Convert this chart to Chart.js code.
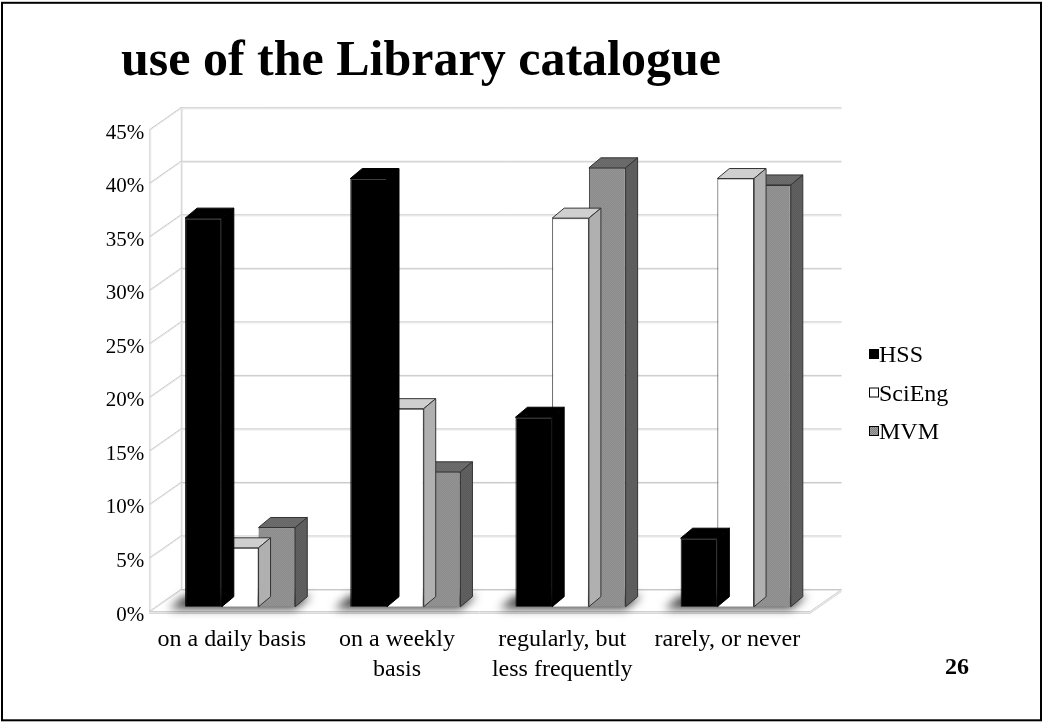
<!DOCTYPE html>
<html><head><meta charset="utf-8">
<script src="https://cdn.jsdelivr.net/npm/chart.js@4.4.1/dist/chart.umd.min.js"></script>
<style>html,body{margin:0;padding:0;background:#fff}#wrap{width:1042px;height:722px;position:relative}</style>
</head><body><div id="wrap"><canvas id="c"></canvas></div>
<script>
const titleText = 'use of the Library catalogue';
const categories = ['on a daily basis', ['on a weekly', 'basis'], ['regularly, but', 'less frequently'], 'rarely, or never'];
const seriesNames = ['HSS', 'SciEng', 'MVM'];
const hss = [36.3, 40.0, 17.7, 6.4];
const sciEng = [5.5, 18.5, 36.3, 40.0];
const mvm = [7.4, 12.6, 41.0, 39.4];
const yTickValues = [0, 5, 10, 15, 20, 25, 30, 35, 40, 45];
const pageNumber = '26';

const FONT = "'Liberation Serif', 'Times New Roman', serif";
const WALL = {dx: 31.5, dy: -22};
const BAR_SHIFT = {dx: 8.3, dy: -4.3};
const BAR_DEPTH = {dx: 12, dy: -10};

function dither(a, b) {
  const cv = document.createElement('canvas');
  cv.width = cv.height = 2;
  const g = cv.getContext('2d');
  g.fillStyle = a; g.fillRect(0, 0, 2, 2);
  g.fillStyle = b; g.fillRect(0, 0, 1, 1); g.fillRect(1, 1, 1, 1);
  return g.createPattern(cv, 'repeat');
}
const faces = [
  {front: '#000000', top: '#000000', side: '#000000', border: '#000000'},
  {front: '#ffffff', top: '#cfcfcf', side: '#b0b0b0', border: '#333333'},
  {front: dither('#7e7e7e', '#a2a2a2'), top: dither('#5a5a5a', '#7a7a7a'), side: dither('#505050', '#6c6c6c'), border: '#333333'}
];

const threeD = {
  id: 'threeD',
  beforeDraw(chart) {
    const ctx = chart.ctx;
    ctx.save(); ctx.fillStyle = '#fff'; ctx.fillRect(0, 0, chart.width, chart.height); ctx.restore();
  },
  beforeDatasetsDraw(chart) {
    const ctx = chart.ctx, ys = chart.scales.y, a = chart.chartArea;
    const L = a.left, R = a.right;
    ctx.save();
    ctx.lineCap = 'butt';
    const line = (pts, col, off) => {
      ctx.strokeStyle = col; ctx.lineWidth = 1;
      ctx.beginPath();
      pts.forEach((p, i) => i ? ctx.lineTo(p[0], p[1] + off) : ctx.moveTo(p[0], p[1] + off));
      ctx.stroke();
    };
    const yTop = ys.getPixelForValue(ys.max), y0 = ys.getPixelForValue(0);
    [[ [L, yTop], [L, y0] ], [ [L + WALL.dx, yTop + WALL.dy], [L + WALL.dx, y0 + WALL.dy] ]].forEach(p => {
      ctx.strokeStyle = '#cdcdcd'; ctx.lineWidth = 1;
      ctx.beginPath(); ctx.moveTo(p[0][0] + 0.5, p[0][1]); ctx.lineTo(p[1][0] + 0.5, p[1][1]); ctx.stroke();
      ctx.strokeStyle = '#e8e8e8';
      ctx.beginPath(); ctx.moveTo(p[0][0] + 1.5, p[0][1]); ctx.lineTo(p[1][0] + 1.5, p[1][1]); ctx.stroke();
    });
    ys.ticks.forEach(t => {
      const y = ys.getPixelForValue(t.value);
      const pts = [[L, y], [L + WALL.dx, y + WALL.dy], [R + WALL.dx, y + WALL.dy]];
      line(pts, '#c8c8c8', 0.5);
      line(pts, '#e6e6e6', 1.5);
    });
    const fl = [[L, y0], [R, y0], [R + WALL.dx, y0 + WALL.dy]];
    line(fl, '#cfcfcf', 0.5);
    line(fl, '#e6e6e6', 1.5);
    line([[L, y0 + 2], [R, y0 + 2], [R + WALL.dx, y0 + 2 + WALL.dy]], '#d8d8d8', 0.5);
    ctx.translate(BAR_SHIFT.dx, BAR_SHIFT.dy);
    const m0 = chart.getDatasetMeta(0), m2 = chart.getDatasetMeta(chart.data.datasets.length - 1);
    ctx.save();
    ctx.filter = 'blur(5px)';
    ctx.fillStyle = 'rgba(0,0,0,0.75)';
    m0.data.forEach((el, i) => {
      const left = el.x - el.width / 2, r = m2.data[i].x + m2.data[i].width / 2, base = el.base;
      ctx.beginPath();
      ctx.moveTo(left - 16, base + 2);
      ctx.lineTo(r, base + 2);
      ctx.lineTo(r + BAR_DEPTH.dx + 4, base - 11);
      ctx.lineTo(left, base - 11);
      ctx.closePath(); ctx.fill();
    });
    ctx.restore();
  },
  afterDatasetDraw(chart, args) {
    const ctx = chart.ctx, f = faces[args.index];
    ctx.save();
    ctx.lineWidth = 1; ctx.strokeStyle = f.border; ctx.lineJoin = 'miter';
    args.meta.data.forEach(el => {
      const l = el.x - el.width / 2, r = el.x + el.width / 2, t = el.y, b = el.base;
      const dx = BAR_DEPTH.dx, dy = BAR_DEPTH.dy;
      ctx.fillStyle = f.top;
      ctx.beginPath(); ctx.moveTo(l, t); ctx.lineTo(l + dx, t + dy); ctx.lineTo(r + dx, t + dy); ctx.lineTo(r, t); ctx.closePath();
      ctx.fill(); ctx.stroke();
      ctx.fillStyle = f.side;
      ctx.beginPath(); ctx.moveTo(r, t); ctx.lineTo(r + dx, t + dy); ctx.lineTo(r + dx, b + dy); ctx.lineTo(r, b); ctx.closePath();
      ctx.fill(); ctx.stroke();
    });
    ctx.restore();
  },
  afterDatasetsDraw(chart) { chart.ctx.restore(); },
  afterDraw(chart) {
    const ctx = chart.ctx;
    ctx.save();
    ctx.fillStyle = '#000'; ctx.textAlign = 'left'; ctx.textBaseline = 'middle';
    ctx.font = 'bold 50px ' + FONT;
    ctx.fillText(titleText, 121, 62);
    ctx.font = '24px ' + FONT;
    const rowsY = [355, 393.5, 432];
    chart.data.datasets.forEach((ds, i) => {
      const y = rowsY[i];
      ctx.fillStyle = faces[i].front; ctx.fillRect(869, y - 6, 10, 10);
      ctx.strokeStyle = '#000'; ctx.lineWidth = 1; ctx.strokeRect(869.5, y - 5.5, 9, 9);
      ctx.fillStyle = '#000'; ctx.fillText(ds.label, 879, y + 1);
    });
    ctx.font = 'bold 24px ' + FONT; ctx.textAlign = 'center';
    ctx.fillText(pageNumber, 957, 668);
    ctx.strokeStyle = '#000'; ctx.lineWidth = 2;
    ctx.strokeRect(2, 2.8, 1039, 717.5);
    ctx.restore();
  }
};

const datasets = [hss, sciEng, mvm].map((d, i) => ({
  label: seriesNames[i], data: d, clip: false,
  backgroundColor: faces[i].front, borderColor: faces[i].border, borderWidth: 1,
  categoryPercentage: 0.667, barPercentage: 1.0
}));

new Chart(document.getElementById('c'), {
  type: 'bar',
  data: {labels: categories, datasets},
  plugins: [threeD],
  options: {
    responsive: true, maintainAspectRatio: false, animation: false,
    layout: {padding: {left: 89.3, right: 232, top: 129.3, bottom: 31}},
    plugins: {legend: {display: false}, tooltip: {enabled: false}, title: {display: false}},
    scales: {
      x: {
        grid: {display: false, drawTicks: false}, border: {display: false},
        ticks: {color: '#000', font: {family: FONT, size: 24, lineHeight: 1.25}, padding: 14, maxRotation: 0, autoSkip: false},
        afterFit(s) { s.height = 80; }
      },
      y: {
        min: 0, max: 45,
        grid: {display: false, drawTicks: false}, border: {display: false},
        afterBuildTicks(s) { s.ticks = yTickValues.map(v => ({value: v})); },
        ticks: {color: '#000', font: {family: FONT, size: 21}, padding: 5, labelOffset: 4, callback: v => v + '%'},
        afterFit(s) { s.width = 60; }
      }
    }
  }
});
</script></body></html>
